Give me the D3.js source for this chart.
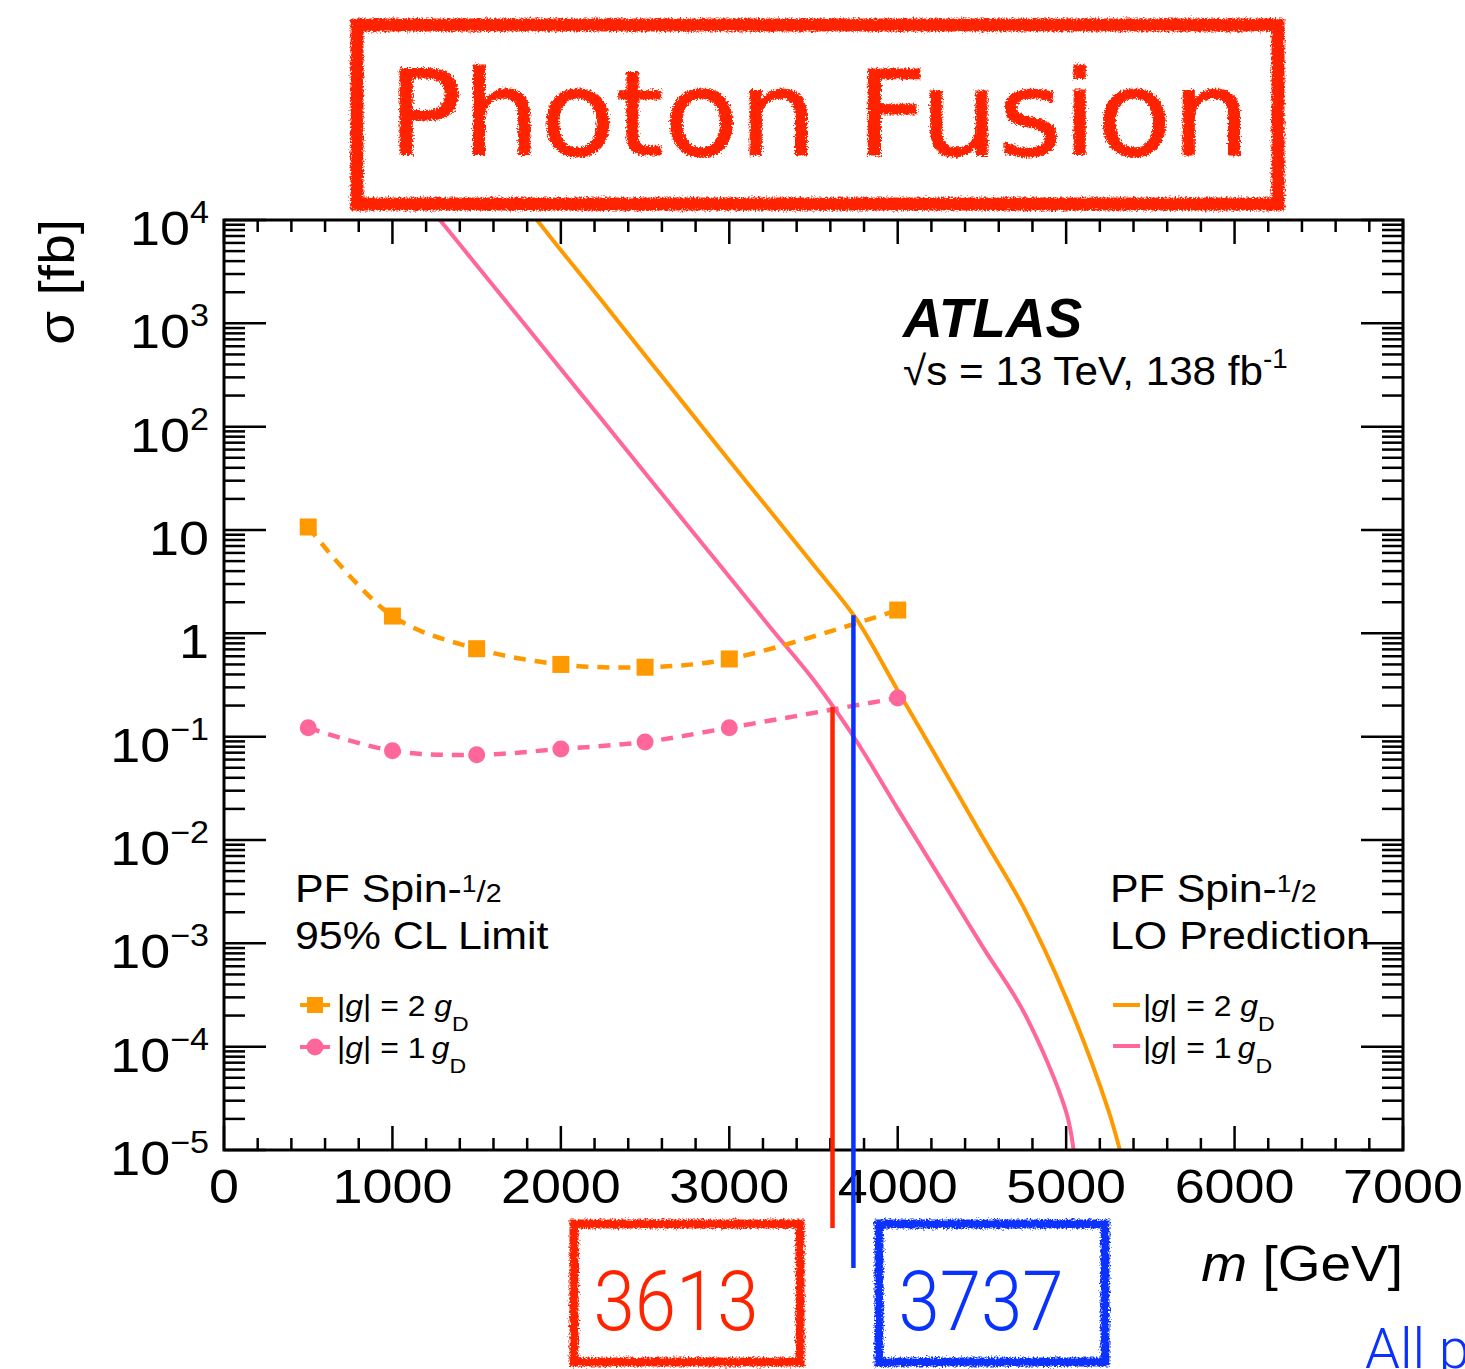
<!DOCTYPE html>
<html>
<head>
<meta charset="utf-8">
<script src="https://cdn.jsdelivr.net/npm/d3@7"></script>
<style>
  html, body { margin: 0; padding: 0; background: #fff; }
  svg { display: block; font-family: "Liberation Sans", Arial, Helvetica, sans-serif; }
</style>
</head>
<body>
<script>
// ---- Data -------------------------------------------------------------
// Observed 95% CL upper limits on the photon-fusion cross-section [fb]
const limitMass = [500, 1000, 1500, 2000, 2500, 3000, 4000];
const limit2gD  = [10.7, 1.47, 0.71, 0.50, 0.47, 0.565, 1.68];
const limit1gD  = [0.122, 0.073, 0.0667, 0.076, 0.089, 0.122, 0.237];

// LO cross-section predictions [fb]
const predMass2gD = [1850, 2000, 2250, 2500, 2750, 3000, 3250, 3500, 3750, 4000, 4250, 4500, 4750, 5000, 5250, 5330];
const pred2gD     = [1.04e4, 5100, 1600, 490, 152, 47, 14.8, 4.6, 1.41, 0.28, 0.0558, 0.011, 2.19e-3, 2.95e-4, 2.45e-5, 8.5e-6];
const predMass1gD = [1250, 1500, 1750, 2000, 2250, 2500, 2750, 3000, 3250, 3500, 3750, 4000, 4250, 4500, 4750, 5000, 5050];
const pred1gD     = [1.16e4, 3650, 1150, 361, 114, 35.7, 11.2, 3.53, 1.11, 0.355, 0.0933, 0.020, 4.37e-3, 9.5e-4, 2.14e-4, 2.34e-5, 8.3e-6];

// Mass limits (1 gD, 2 gD) [GeV]
const massLimitLabels = ["3613", "3737"];
const massLimits      = [3613, 3737];

// Axis tick labels
const xTickValues = [0, 1000, 2000, 3000, 4000, 5000, 6000, 7000];
const xTickLabels = ["0", "1000", "2000", "3000", "4000", "5000", "6000", "7000"];
const yTickValues = [1e4, 1e3, 1e2, 10, 1, 1e-1, 1e-2, 1e-3, 1e-4, 1e-5];
const yTickBase   = ["10", "10", "10", "10", "1", "10", "10", "10", "10", "10"];
const yTickExp    = ["4", "3", "2", "", "", "\u22121", "\u22122", "\u22123", "\u22124", "\u22125"];

// ---- Colours ------------------------------------------------------------
const cOrange = "#ff9900";
const cPink   = "#ff6699";
const cRed    = "#ff2400";
const cBlue   = "#0a32ff";

// ---- Layout -------------------------------------------------------------
const W = 1465, H = 1369;
const plot = { left: 224, right: 1403, top: 220, bottom: 1150 };
const SX = 1.1; // horizontal stretch of the label font

const svg = d3.select("body").append("svg")
  .attr("width", W).attr("height", H);

// text positioned through a transform so it can be widened a little
function label(parent, xPos, yPos, size, sx = SX) {
  return parent.append("text")
    .attr("transform", `translate(${xPos},${yPos}) scale(${sx},1)`)
    .attr("font-size", size);
}

const defs = svg.append("defs");
// rough crayon-like edge for the hand-drawn annotations
const rough = defs.append("filter").attr("id", "rough")
  .attr("x", "-5%").attr("y", "-10%").attr("width", "110%").attr("height", "120%");
rough.append("feTurbulence").attr("type", "fractalNoise")
  .attr("baseFrequency", 0.6).attr("numOctaves", 2).attr("seed", 4).attr("result", "noise");
rough.append("feDisplacementMap").attr("in", "SourceGraphic").attr("in2", "noise")
  .attr("scale", 7).attr("xChannelSelector", "R").attr("yChannelSelector", "G");

defs.append("clipPath").attr("id", "plotClip")
  .append("rect")
  .attr("x", plot.left).attr("y", plot.top)
  .attr("width", plot.right - plot.left).attr("height", plot.bottom - plot.top);

const x = d3.scaleLinear().domain([0, 7000]).range([plot.left, plot.right]);
const y = d3.scaleLog().domain([1e-5, 1e4]).range([plot.bottom, plot.top]);

// ---- Axes ticks -----------------------------------------------------------
const axes = svg.append("g").attr("stroke", "#000").attr("stroke-width", 2.5);

const xMinor = d3.range(0, 7001, 200);
const xTickLen = v => (v % 1000 === 0 ? 24 : 12);
axes.selectAll("line.xb").data(xMinor).join("line")
  .attr("x1", d => x(d)).attr("x2", d => x(d))
  .attr("y1", plot.bottom).attr("y2", d => plot.bottom - xTickLen(d));
axes.selectAll("line.xt").data(xMinor).join("line")
  .attr("x1", d => x(d)).attr("x2", d => x(d))
  .attr("y1", plot.top).attr("y2", d => plot.top + xTickLen(d));

const yMinor = [];
for (let e = -5; e <= 3; e++) for (let k = 2; k <= 9; k++) yMinor.push(k * Math.pow(10, e));
const yAll = yTickValues.map(v => ({ v, major: true })).concat(yMinor.map(v => ({ v, major: false })));
axes.selectAll("line.yl").data(yAll).join("line")
  .attr("x1", plot.left).attr("x2", d => plot.left + (d.major ? 42 : 21))
  .attr("y1", d => y(d.v)).attr("y2", d => y(d.v));
axes.selectAll("line.yr").data(yAll).join("line")
  .attr("x1", plot.right).attr("x2", d => plot.right - (d.major ? 42 : 21))
  .attr("y1", d => y(d.v)).attr("y2", d => y(d.v));

// ---- Tick labels ------------------------------------------------------------
const tickG = svg.append("g");
xTickValues.forEach((v, i) => {
  label(tickG, x(v), plot.bottom + 53, 49)
    .attr("text-anchor", "middle").text(xTickLabels[i]);
});
yTickValues.forEach((v, i) => {
  const t = label(tickG, 209, y(v) + 25, 49).attr("text-anchor", "end");
  t.append("tspan").text(yTickBase[i]);
  if (yTickExp[i] !== "") {
    t.append("tspan").attr("dy", -22).attr("font-size", 31).text(yTickExp[i]);
  }
});

// ---- Axis titles -----------------------------------------------------------------
svg.append("text")
  .attr("transform", `translate(74,${plot.top - 1}) rotate(-90) scale(${SX},1)`)
  .attr("text-anchor", "end").attr("font-size", 50)
  .text("\u03c3 [fb]");

const xt = label(svg, plot.right, 1281, 50).attr("text-anchor", "end");
xt.append("tspan").attr("font-style", "italic").text("m");
xt.append("tspan").text(" [GeV]");

// ---- Curves -----------------------------------------------------------------------
const plotArea = svg.append("g").attr("clip-path", "url(#plotClip)");

const predLine = d3.line().x(d => x(d[0])).y(d => y(d[1])).curve(d3.curveCatmullRom.alpha(0.5));
plotArea.append("path")
  .datum(d3.zip(predMass2gD, pred2gD))
  .attr("d", predLine).attr("fill", "none")
  .attr("stroke", cOrange).attr("stroke-width", 4);
plotArea.append("path")
  .datum(d3.zip(predMass1gD, pred1gD))
  .attr("d", predLine).attr("fill", "none")
  .attr("stroke", cPink).attr("stroke-width", 4);

const limLine = d3.line().x(d => x(d[0])).y(d => y(d[1])).curve(d3.curveCatmullRom.alpha(0.5));
plotArea.append("path")
  .datum(d3.zip(limitMass, limit2gD))
  .attr("d", limLine).attr("fill", "none")
  .attr("stroke", cOrange).attr("stroke-width", 4.5).attr("stroke-dasharray", "12 9");
plotArea.append("path")
  .datum(d3.zip(limitMass, limit1gD))
  .attr("d", limLine).attr("fill", "none")
  .attr("stroke", cPink).attr("stroke-width", 4.5).attr("stroke-dasharray", "12 9");

// markers
plotArea.selectAll("rect.m2").data(d3.zip(limitMass, limit2gD)).join("rect")
  .attr("x", d => x(d[0]) - 8.5).attr("y", d => y(d[1]) - 8.5)
  .attr("width", 17).attr("height", 17).attr("fill", cOrange);
plotArea.selectAll("circle.m1").data(d3.zip(limitMass, limit1gD)).join("circle")
  .attr("cx", d => x(d[0])).attr("cy", d => y(d[1])).attr("r", 8.5).attr("fill", cPink);

// ---- Labels inside the frame --------------------------------------------------------
svg.append("text").attr("x", 903).attr("y", 337)
  .attr("font-size", 55).attr("font-weight", "bold").attr("font-style", "italic")
  .text("ATLAS");
const lumi = label(svg, 903, 385, 41, 1.03);
lumi.append("tspan").text("\u221as = 13 TeV, 138 fb");
lumi.append("tspan").attr("dy", -17).attr("font-size", 27).text("-1");

function spinTitle(xPos, secondLine) {
  const t1 = label(svg, xPos, 902, 39);
  t1.append("tspan").text("PF Spin-");
  t1.append("tspan").attr("dy", -10).attr("font-size", 24).text("1");
  t1.append("tspan").attr("dy", 10).attr("font-size", 30).text("/");
  t1.append("tspan").attr("font-size", 26).text("2");
  label(svg, xPos, 949, 39).text(secondLine);
}
function couplingLabel(xPos, yPos, n, spaced) {
  const t = label(svg, xPos, yPos, 29);
  t.append("tspan").text("|");
  t.append("tspan").attr("font-style", "italic").text("g");
  t.append("tspan").text("| = " + n + (spaced ? " " : "\u2009"));
  t.append("tspan").attr("font-style", "italic").text("g");
  t.append("tspan").attr("dy", 15).attr("font-size", 21).text("D");
}

// limit legend
spinTitle(295, "95% CL Limit");
const legY = [1005, 1047];
svg.append("line").attr("x1", 300).attr("x2", 330).attr("y1", legY[0]).attr("y2", legY[0])
  .attr("stroke", cOrange).attr("stroke-width", 4);
svg.append("rect").attr("x", 307).attr("y", legY[0] - 8).attr("width", 16).attr("height", 16).attr("fill", cOrange);
svg.append("line").attr("x1", 300).attr("x2", 330).attr("y1", legY[1]).attr("y2", legY[1])
  .attr("stroke", cPink).attr("stroke-width", 4);
svg.append("circle").attr("cx", 315).attr("cy", legY[1]).attr("r", 8.5).attr("fill", cPink);
couplingLabel(337, legY[0] + 11, 2, true);
couplingLabel(337, legY[1] + 11, 1, false);

// prediction legend
spinTitle(1110, "LO Prediction");
svg.append("line").attr("x1", 1113).attr("x2", 1140).attr("y1", legY[0]).attr("y2", legY[0])
  .attr("stroke", cOrange).attr("stroke-width", 4);
svg.append("line").attr("x1", 1113).attr("x2", 1140).attr("y1", legY[1] - 1).attr("y2", legY[1] - 1)
  .attr("stroke", cPink).attr("stroke-width", 4);
couplingLabel(1143, legY[0] + 11, 2, true);
couplingLabel(1143, legY[1] + 11, 1, false);

// ---- Frame ----------------------------------------------------------------------------
svg.append("rect")
  .attr("x", plot.left).attr("y", plot.top)
  .attr("width", plot.right - plot.left).attr("height", plot.bottom - plot.top)
  .attr("fill", "none").attr("stroke", "#000").attr("stroke-width", 3);

// ---- Mass-limit markers ------------------------------------------------------------------
function predAt(masses, values, m) {
  const i = d3.bisectRight(masses, m) - 1;
  const t = (m - masses[i]) / (masses[i + 1] - masses[i]);
  return Math.pow(10, Math.log10(values[i]) * (1 - t) + Math.log10(values[i + 1]) * t);
}
const limitMarks = [
  { m: massLimits[0], top: predAt(predMass1gD, pred1gD, massLimits[0]), bottom: 1228, color: cRed },
  { m: massLimits[1], top: predAt(predMass2gD, pred2gD, massLimits[1]), bottom: 1268, color: cBlue }
];
svg.selectAll("line.lim").data(limitMarks).join("line")
  .attr("x1", d => x(d.m)).attr("x2", d => x(d.m))
  .attr("y1", d => y(d.top)).attr("y2", d => d.bottom)
  .attr("stroke", d => d.color).attr("stroke-width", 4.5);

// ---- Hand-drawn annotations ------------------------------------------------------------------
const ann = svg.append("g").attr("filter", "url(#rough)");
ann.append("rect").attr("x", 357).attr("y", 25).attr("width", 921).attr("height", 179)
  .attr("fill", "none").attr("stroke", cRed).attr("stroke-width", 13);
ann.append("text").attr("x", 388).attr("y", 155)
  .attr("font-family", "'DejaVu Sans', sans-serif").attr("font-size", 118)
  .attr("textLength", 862).attr("lengthAdjust", "spacingAndGlyphs")
  .attr("fill", cRed).attr("stroke", cRed).attr("stroke-width", 1)
  .text("Photon Fusion");

const boxes = [
  { x0: 574, color: cRed, label: massLimitLabels[0] },
  { x0: 879, color: cBlue, label: massLimitLabels[1] }
];
boxes.forEach(b => {
  ann.append("rect").attr("x", b.x0).attr("y", 1224).attr("width", 226).attr("height", 138)
    .attr("fill", "none").attr("stroke", b.color).attr("stroke-width", 9);
});
boxes.forEach(b => {
  svg.append("text").attr("x", b.x0 + 102).attr("y", 1330)
    .attr("text-anchor", "middle").attr("font-family", "Roboto, 'Open Sans', sans-serif")
    .attr("font-weight", 300).attr("font-size", 84)
    .attr("textLength", 165).attr("lengthAdjust", "spacingAndGlyphs")
    .attr("fill", b.color).text(b.label);
});

svg.append("text").attr("x", 1365).attr("y", 1368)
  .attr("font-family", "Roboto, 'Open Sans', sans-serif").attr("font-weight", 300)
  .attr("font-size", 56).attr("fill", cBlue).text("All p");
</script>
</body>
</html>
